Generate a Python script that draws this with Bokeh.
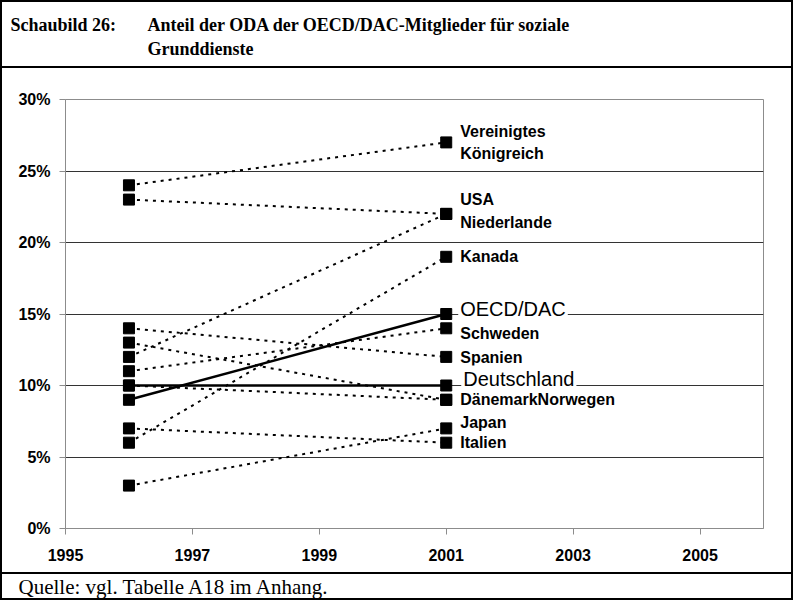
from bokeh.plotting import figure
from bokeh.layouts import column
from bokeh.models import Label, FixedTicker, Range1d
from bokeh.embed import file_html
from bokeh.resources import INLINE

# ---------------- data ----------------
start_year = 1996
end_year = 2001
series_names = ["Vereinigtes Königreich", "Niederlande", "USA", "Kanada", "OECD/DAC",
                "Schweden", "Spanien", "Deutschland", "Dänemark", "Norwegen", "Japan", "Italien"]
values_1996 = [24, 23, 12, 6, 9, 11, 14, 10, 13, 10, 3, 7]
values_2001 = [27, 22, 22, 19, 15, 14, 12, 10, 9, 9, 7, 6]
solid_series = ["OECD/DAC", "Deutschland"]

label_texts = ["Vereinigtes\nKönigreich", "USA", "Niederlande", "Kanada", "OECD/DAC",
               "Schweden", "Spanien", "Deutschland", "DänemarkNorwegen", "Japan", "Italien"]
label_values = [27, 22, 22, 19, 15, 14, 12, 10, 9, 7, 6]

x_ticks = [1995, 1997, 1999, 2001, 2003, 2005]
x_tick_labels = ["1995", "1997", "1999", "2001", "2003", "2005"]
y_ticks = [0, 5, 10, 15, 20, 25, 30]
y_tick_labels = ["0%", "5%", "10%", "15%", "20%", "25%", "30%"]

title_prefix = "Schaubild 26:"
title_line1 = "Anteil der ODA der OECD/DAC-Mitglieder für soziale"
title_line2 = "Grunddienste"
source_text = "Quelle: vgl. Tabelle A18 im Anhang."

# ---------------- style ----------------
label_dy = [0, 14, -9, 0, 5, -5, -1, 7, 0, 6, 0]
label_dx = [12, 12, 12, 12, 12, 12, 12, 15, 12, 12, 12]
label_big = ["OECD/DAC", "Deutschland"]

W, H = 793, 600
HEAD_H, FOOT_H = 68, 28
MAIN_H = H - HEAD_H - FOOT_H
FL, FR, FT, FB = 65, 763, 99, 528   # plot frame edges in page pixels

B_L, B_R = "inset 2px 0 0 0 black", "inset -2px 0 0 0 black"
B_T, B_B = "inset 0 2px 0 0 black", "inset 0 -2px 0 0 black"


def text_panel(height, shadows):
    f = figure(width=W, height=height, output_backend="svg", toolbar_location=None,
               x_axis_type=None, y_axis_type=None, min_border=0,
               x_range=Range1d(0, 1), y_range=Range1d(0, 1))
    f.frame_align = False
    f.background_fill_alpha = 0
    f.border_fill_alpha = 0
    f.outline_line_color = None
    f.styles = {"background-color": "white", "box-shadow": shadows}
    return f


def panel_label(f, height, px, py, text, size, style):
    f.add_layout(Label(x=px, y=height - py, text=text, x_units="screen", y_units="screen",
                       text_align="left", text_baseline="middle",
                       text_font="Liberation Serif", text_font_style=style,
                       text_font_size=size, text_color="black"))


# ---------------- heading ----------------
head = text_panel(HEAD_H, ", ".join([B_T, B_L, B_R, B_B]))
panel_label(head, HEAD_H, 10, 24, title_prefix, "18px", "bold")
panel_label(head, HEAD_H, 147, 24, title_line1, "18px", "bold")
panel_label(head, HEAD_H, 147, 48, title_line2, "18px", "bold")

# ---------------- chart ----------------
p = figure(width=W, height=MAIN_H, output_backend="svg", toolbar_location=None,
           x_range=Range1d(1995, 2006), y_range=Range1d(0, 30),
           min_border_left=FL, min_border_right=W - FR,
           min_border_top=FT - HEAD_H, min_border_bottom=HEAD_H + MAIN_H - FB)
p.frame_align = False
p.background_fill_color = "white"
p.border_fill_alpha = 0
p.outline_line_color = "#8c8c8c"
p.outline_line_width = 1
p.styles = {"background-color": "white", "box-shadow": ", ".join([B_L, B_R])}

p.xgrid.visible = False
p.ygrid.ticker = FixedTicker(ticks=y_ticks)
p.ygrid.grid_line_color = "#333333"
p.ygrid.grid_line_width = 1

for ax in (p.xaxis[0], p.yaxis[0]):
    ax.axis_line_color = "#8c8c8c"
    ax.major_tick_line_color = "#8c8c8c"
    ax.major_tick_in = 0
    ax.major_tick_out = 6
    ax.minor_tick_line_color = None
    ax.major_label_text_font = "Liberation Sans"
    ax.major_label_text_font_style = "bold"
    ax.major_label_text_font_size = "16px"
    ax.major_label_text_color = "black"

p.xaxis.ticker = FixedTicker(ticks=x_ticks)
p.xaxis.major_label_overrides = dict(zip(x_ticks, x_tick_labels))
p.xaxis.major_label_standoff = 14
p.yaxis.ticker = FixedTicker(ticks=y_ticks)
p.yaxis.major_label_overrides = dict(zip(y_ticks, y_tick_labels))
p.yaxis.major_label_standoff = 9

for name, v0, v1 in zip(series_names, values_1996, values_2001):
    if name in solid_series:
        p.line([start_year, end_year], [v0, v1], line_color="black", line_width=2.5)
    else:
        p.line([start_year, end_year], [v0, v1], line_color="black", line_width=2,
               line_dash="3 5")

for name, v0, v1 in zip(series_names, values_1996, values_2001):
    p.scatter([start_year, end_year], [v0, v1], marker="square", size=11,
              fill_color="black", line_color="black")

for txt, v, dy, dx in zip(label_texts, label_values, label_dy, label_dx):
    big = txt in label_big
    p.add_layout(Label(x=end_year, y=v, text=txt, x_offset=dx, y_offset=dy,
                       text_align="left", text_baseline="middle",
                       text_font="Liberation Sans", text_color="black",
                       text_font_style="normal" if big else "bold",
                       text_font_size="20px" if big else "16px",
                       text_line_height=1.25,
                       background_fill_color="white", background_fill_alpha=1.0,
                       padding=2))

# ---------------- source line ----------------
foot = text_panel(FOOT_H, ", ".join([B_T, B_L, B_R, B_B]))
panel_label(foot, FOOT_H, 18, 14, source_text, "21px", "normal")

layout = column(head, p, foot, spacing=0)
open("out.html", "w").write(file_html(layout, INLINE))
